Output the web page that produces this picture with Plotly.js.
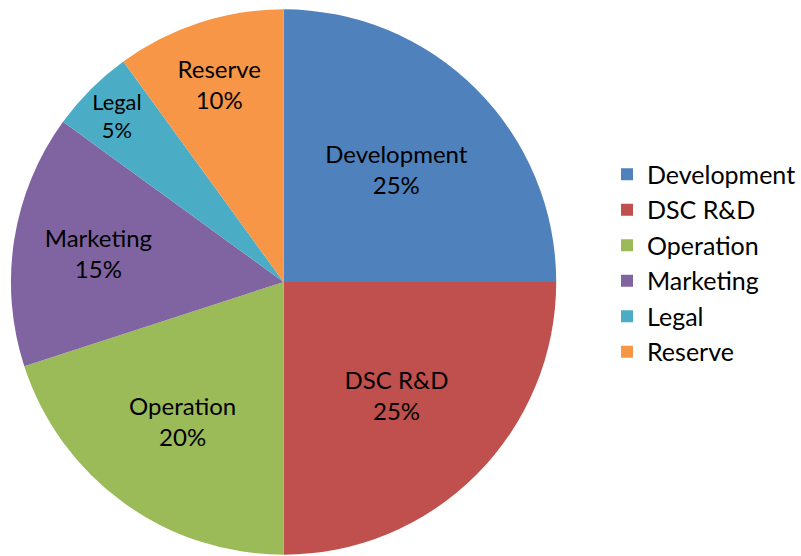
<!DOCTYPE html>
<html><head><meta charset="utf-8">
<script src="https://cdn.plot.ly/plotly-3.0.1.min.js"></script>
<style>body{margin:0;background:#fff}#c{width:801px;height:556px}</style>
</head><body><div id="c"></div>
<script>
const labels = ["Development", "DSC R&D", "Operation", "Marketing", "Legal", "Reserve"];
const values = [25, 25, 20, 15, 5, 10];
const colors = ["#4F81BD", "#C0504D", "#9BBB59", "#8064A2", "#4BACC6", "#F79646"];

Plotly.newPlot("c", [{
  type: "pie",
  labels: labels,
  values: values,
  sort: false,
  direction: "clockwise",
  rotation: 0,
  marker: {colors: colors, line: {width: 0}},
  textinfo: "label+percent",
  texttemplate: "%{label}<br>%{percent:.0%}",
  textposition: "inside",
  insidetextorientation: "horizontal",
  textfont: {family: "Lato, sans-serif", size: 24, color: "#000"},
  hoverinfo: "none",
  domain: {x: [11/801, 559/801], y: [0, 1 - 8/556]}
}], {
  width: 801, height: 556,
  margin: {l: 0, r: 0, t: 0, b: 0},
  paper_bgcolor: "#fff",
  showlegend: true,
  legend: {x: 0.762, y: 0.527, xanchor: "left", yanchor: "middle",
           font: {family: "Lato, sans-serif", size: 25, color: "#000"}}
}, {displayModeBar: false, staticPlot: true});
</script></body></html>
